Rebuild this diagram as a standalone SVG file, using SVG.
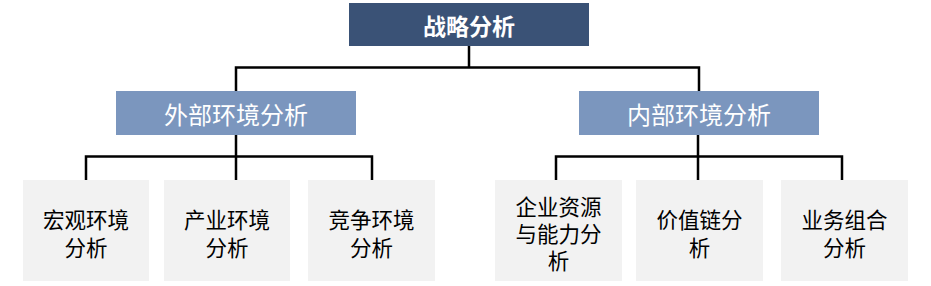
<svg xmlns="http://www.w3.org/2000/svg" width="931" height="286" viewBox="0 0 931 286">
<style>
text{font-family:"Microsoft YaHei","Noto Sans CJK SC",sans-serif;text-anchor:middle;dominant-baseline:central}
.top rect{fill:#3A5276}
.top text{fill:#fff;font-size:23px;font-weight:bold}
.mid rect{fill:#7B96BE}
.mid text{fill:#fff;font-size:24px}
.leaf rect{fill:#F2F2F2}
.leaf text{fill:#000;font-size:21.5px}
.conn path{fill:none;stroke:#000;stroke-width:2.5}
</style>
<rect width="931" height="286" fill="#fff"/>
<g class="conn">
<path d="M469 45V67.5M236 91V67.5H699V91"/>
<path d="M236 134V156.5M86 180V156.5H372V180M236 156.5V180"/>
<path d="M698 134V156.5M556 180V156.5H842V180M698 156.5V180"/>
</g>
<g id="n0" class="top"><rect x="349" y="3" width="240" height="43"/><text x="469" y="24.5">战略分析</text></g>
<g id="n1" class="mid"><rect x="116" y="91" width="240" height="44"/><text x="236" y="113">外部环境分析</text></g>
<g id="n2" class="mid"><rect x="579" y="91" width="240" height="44"/><text x="699" y="113">内部环境分析</text></g>
<g id="n3" class="leaf"><rect x="23" y="180" width="126" height="101"/><text x="86" y="218">宏观环境</text><text x="86" y="246">分析</text></g>
<g id="n4" class="leaf"><rect x="164" y="180" width="126" height="101"/><text x="227" y="218">产业环境</text><text x="227" y="246">分析</text></g>
<g id="n5" class="leaf"><rect x="308" y="180" width="127" height="101"/><text x="371.5" y="218">竞争环境</text><text x="371.5" y="246">分析</text></g>
<g id="n6" class="leaf"><rect x="495" y="180" width="127" height="101"/><text x="558.5" y="205">企业资源</text><text x="558.5" y="232">与能力分</text><text x="558.5" y="259">析</text></g>
<g id="n7" class="leaf"><rect x="636" y="180" width="127" height="101"/><text x="699.5" y="218">价值链分</text><text x="699.5" y="246">析</text></g>
<g id="n8" class="leaf"><rect x="781" y="180" width="127" height="101"/><text x="844.5" y="218">业务组合</text><text x="844.5" y="246">分析</text></g>
</svg>
